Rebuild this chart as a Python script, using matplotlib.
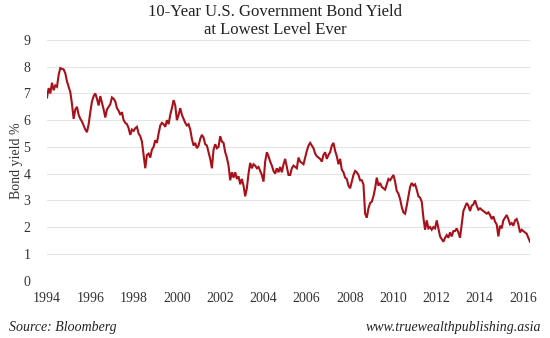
import numpy as np
import matplotlib
matplotlib.use("Agg")
import matplotlib.pyplot as plt

# ---- data ----
START_YEAR = 1994.0
END_YEAR = 2016.33

yields_part1 = [
    6.85, 7.2, 7.0, 7.4, 7.12, 7.3, 7.25, 7.7, 7.95, 7.92,
    7.9, 7.75, 7.45, 7.25, 7.05, 6.6, 6.05, 6.4, 6.5, 6.2,
    6.05, 5.95, 5.8, 5.65, 5.55, 5.85, 6.3, 6.7, 6.9, 7.0,
    6.8, 6.55, 6.9, 6.65, 6.4, 6.1, 6.4, 6.5, 6.6, 6.85,
    6.8, 6.7, 6.45, 6.35, 6.2, 6.3, 6.0, 5.9, 5.85, 5.7,
    5.45, 5.65, 5.6, 5.7, 5.75, 5.5, 5.4, 5.2, 4.7, 4.2,
    4.7, 4.75, 4.6, 4.9, 5.0, 5.25, 5.15, 5.5, 5.8, 5.9,
    5.85, 5.75, 6.0, 5.85, 6.2, 6.45, 6.75, 6.55, 6.0, 6.2,
    6.45, 6.2, 6.05, 5.9, 5.8, 5.85, 5.65, 5.3, 5.05, 5.15,
    4.95, 5.05, 5.3, 5.45, 5.35, 5.1, 5.05, 4.8, 4.55, 4.2,
    4.9, 5.1, 4.95, 5.0, 5.4, 5.2, 5.15, 4.8, 4.6, 4.3,
    3.75, 4.05, 3.85, 4.05, 3.8, 3.9, 3.6, 3.8, 3.55, 3.15,
    3.45, 4.0, 4.4, 4.2, 4.35, 4.3, 4.2, 4.25, 4.1, 3.95,
    3.7, 4.45, 4.8, 4.65, 4.45, 4.3, 4.1, 4.0, 4.2, 4.05,
    4.25, 4.05, 4.35, 4.55, 4.25, 3.95,
]
yields_part2 = [
    3.95, 4.2, 4.3, 4.25, 4.2, 4.6, 4.45, 4.4, 4.35, 4.6,
    4.85, 5.05, 5.15, 5.05, 4.95, 4.75, 4.65, 4.6, 4.55, 4.45,
    4.7, 4.8, 4.55, 4.7, 4.8, 5.05, 5.15, 4.85, 4.65, 4.35,
    4.55, 4.15, 4.05, 3.85, 3.8, 3.55, 3.45, 3.7, 3.95, 4.1,
    4.05, 3.95, 3.75, 3.75, 3.6, 2.5, 2.35, 2.7, 2.9, 2.95,
    3.15, 3.45, 3.85, 3.55, 3.65, 3.5, 3.45, 3.4, 3.6, 3.8,
    3.75, 3.85, 3.95, 3.7, 3.35, 3.25, 3.05, 2.75, 2.55, 2.5,
    2.8, 3.15, 3.5, 3.65, 3.55, 3.6, 3.4, 3.15, 3.1, 2.95,
    2.35, 1.9, 2.25, 1.95, 2.0, 1.9, 2.0, 1.95, 2.25, 1.95,
    1.65, 1.55, 1.45, 1.6, 1.7, 1.6, 1.8, 1.65, 1.85, 1.85,
    1.95, 1.8, 1.6, 2.1, 2.6, 2.75, 2.9, 2.8, 2.6, 2.8,
    2.85, 3.0, 2.8, 2.65, 2.7, 2.65, 2.6, 2.55, 2.5, 2.55,
    2.45, 2.3, 2.4, 2.2, 2.1, 1.65, 2.05, 1.95, 2.25, 2.35,
    2.45, 2.3, 2.1, 2.15, 2.05, 2.25, 2.3, 2.1, 1.8, 1.9,
    1.85, 1.8, 1.75, 1.6, 1.45,
]
yields = yields_part1 + yields_part2
years = np.linspace(START_YEAR, END_YEAR, len(yields))

x_ticks = list(range(1994, 2017, 2))
x_tick_labels = [str(y) for y in x_ticks]
y_ticks = list(range(0, 10))

title = "10-Year U.S. Government Bond Yield\nat Lowest Level Ever"
y_label = "Bond yield %"
source_text = "Source: Bloomberg"
site_text = "www.truewealthpublishing.asia"

# ---- figure ----
plt.rcParams['font.family'] = ['Liberation Serif', 'DejaVu Serif']
fig = plt.figure(figsize=(5.5, 3.38), dpi=100)
fig.patch.set_facecolor('white')
ax = fig.add_axes([47 / 550, 1 - 280.5 / 338, (530 - 47) / 550, (280.5 - 40) / 338])

ax.plot(years, yields, color='#a8101a', linewidth=1.5, solid_joinstyle='miter')

ax.set_xlim(1994.0, 2016.33)
ax.set_ylim(0, 9)
ax.set_yticks(y_ticks)
ax.set_xticks(x_ticks)
ax.set_xticklabels(x_tick_labels)
ax.yaxis.grid(True, color='#e4e4e4', linewidth=0.8)
ax.xaxis.grid(False)
ax.set_axisbelow(True)
for s in ax.spines.values():
    s.set_visible(False)
ax.tick_params(axis='both', length=0, labelsize=10, colors='#333333')
ax.tick_params(axis='y', pad=12)
ax.tick_params(axis='x', pad=8)
ax.set_ylabel(y_label, fontsize=10, color='#333333', labelpad=0)

fig.text(0.5, 1 - 21 / 338, title, ha='center', va='center', fontsize=12,
         color='#222222', linespacing=1.25)
fig.text(9 / 550, 1 - 327 / 338, source_text, ha='left', va='center',
         fontsize=10, style='italic', color='#222222')
fig.text(541 / 550, 1 - 327 / 338, site_text, ha='right', va='center',
         fontsize=10, style='italic', color='#222222')

fig.savefig('out.png', dpi=100, facecolor='white')
